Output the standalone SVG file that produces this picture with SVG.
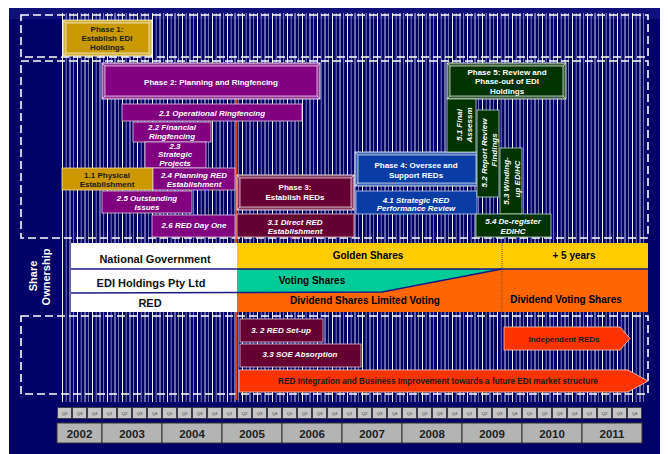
<svg xmlns="http://www.w3.org/2000/svg" width="668" height="454" viewBox="0 0 668 454">
<defs>
<pattern id="st" x="62" y="0" width="15" height="10" patternUnits="userSpaceOnUse">
<rect x="0" y="0" width="1" height="10" fill="#ffffff" fill-opacity="0.95"/>
<rect x="3.75" y="0" width="0.8" height="10" fill="#ffffff" fill-opacity="0.6"/>
<rect x="7.5" y="0" width="1" height="10" fill="#ffffff" fill-opacity="0.8"/>
<rect x="11.25" y="0" width="0.8" height="10" fill="#ffffff" fill-opacity="0.6"/>
</pattern>
<pattern id="qp" x="57" y="407" width="15" height="12" patternUnits="userSpaceOnUse">
<rect x="0.6" y="0.6" width="13.8" height="10.8" fill="#c6c6c6" stroke="#3a3a3a" stroke-width="0.8"/>
</pattern>
<style>
text{font-family:"Liberation Sans",Arial,sans-serif;font-weight:bold;text-anchor:middle}
.w{fill:#ffffff;font-size:8px}
.wi{fill:#ffffff;font-size:8px;font-style:italic}
.dk{fill:#1a1a1a;font-size:8px}
.bk{fill:#000000;font-size:10px}
.tb{fill:#111111;font-size:11px}
.q{fill:#333333;font-size:4.3px;font-weight:normal}
.yr{fill:#222222;font-size:11.5px}
.dash{fill:none;stroke:#ffffff;stroke-width:1.6;stroke-dasharray:8 4}
.sub{stroke:#e0c8e0;stroke-width:0.8}
.edge{fill:none;stroke:#ffffff;stroke-opacity:0.8;stroke-width:0.8}
.band{fill:#ffffff;fill-opacity:0.22;fill-rule:evenodd}
</style>
</defs>
<rect x="0" y="0" width="668" height="454" fill="#ffffff"/>
<rect x="9" y="8" width="651" height="446" fill="#000066"/>
<rect x="9" y="8" width="651" height="11" fill="#1a1a88" fill-opacity="0.6"/>
<rect x="62" y="13" width="584" height="389" fill="url(#st)"/>

<g id="sections">
<rect class="dash" x="21" y="15" width="627" height="42"/>
<rect class="dash" x="21" y="61" width="627" height="177"/>
<rect class="dash" x="21" y="316" width="627" height="78"/>
</g>

<g id="connectors">
<line x1="236.5" y1="99" x2="236.5" y2="400" stroke="#e04010" stroke-width="2"/>
</g>

<g id="phase1">
<rect x="63" y="20" width="89" height="36" fill="#c89a00" stroke="#ffffff" stroke-width="0.8"/>
<path class="band" d="M63 20h89v36h-89z M66 23v30h83v-30z"/>
<rect class="edge" x="66" y="23" width="83" height="30"/>
<path class="edge" d="M63 20L66 23M152 20L149 23M63 56L66 53M152 56L149 53"/>
<text class="dk" x="107" y="32">Phase 1:</text>
<text class="dk" x="107" y="41">Establish EDI</text>
<text class="dk" x="107" y="50">Holdings</text>
</g>

<g id="phase2">
<rect x="102" y="63" width="218" height="36" fill="#800080" stroke="#ffffff" stroke-width="0.8"/>
<path class="band" d="M102 63h218v36h-218z M105 66v30h212v-30z"/>
<rect class="edge" x="105" y="66" width="212" height="30"/>
<path class="edge" d="M102 63L105 66M320 63L317 66M102 99L105 96M320 99L317 96"/>
<text class="w" x="211" y="85">Phase 2: Planning and Ringfencing</text>
</g>

<g id="n21">
<rect class="sub" x="122" y="104" width="180" height="17" fill="#800080"/>
<text class="wi" x="212" y="116">2.1 Operational Ringfencing</text>
</g>
<g id="n22">
<rect class="sub" x="133" y="122" width="78" height="20" fill="#800080"/>
<text class="wi" x="172" y="130">2.2 Financial</text>
<text class="wi" x="172" y="139">Ringfencing</text>
</g>
<g id="n23">
<rect class="sub" x="145" y="142" width="61" height="26" fill="#800080"/>
<text class="wi" x="175" y="149">2.3</text>
<text class="wi" x="175" y="157">Strategic</text>
<text class="wi" x="175" y="166">Projects</text>
</g>
<g id="n11">
<rect x="62" y="168" width="91" height="22" fill="#cc9900" stroke="#f0e0a0" stroke-width="0.8"/>
<text class="dk" x="107" y="178">1.1 Physical</text>
<text class="dk" x="107" y="187">Establishment</text>
</g>
<g id="n24">
<rect class="sub" x="153" y="168" width="82" height="22" fill="#800080"/>
<text class="wi" x="194" y="178">2.4 Planning RED</text>
<text class="wi" x="194" y="187">Establishment</text>
</g>
<g id="n25">
<rect class="sub" x="102" y="191" width="90" height="22" fill="#800080"/>
<text class="wi" x="147" y="201">2.5 Outstanding</text>
<text class="wi" x="147" y="210">Issues</text>
</g>
<g id="n26">
<rect class="sub" x="152" y="215" width="83" height="22" fill="#800080"/>
<text class="wi" x="194" y="228">2.6 RED Day One</text>
</g>

<g id="phase3">
<rect x="237" y="175" width="117" height="35" fill="#660033" stroke="#ffffff" stroke-width="0.8"/>
<path class="band" d="M237 175h117v35h-117z M240 178v29h111v-29z"/>
<rect class="edge" x="240" y="178" width="111" height="29"/>
<path class="edge" d="M237 175L240 178M354 175L351 178M237 210L240 207M354 210L351 207"/>
<text class="w" x="295" y="190">Phase 3:</text>
<text class="w" x="295" y="200">Establish REDs</text>
</g>
<g id="n31">
<rect x="237" y="214" width="117" height="23" fill="#660033" stroke="#e0c0d0" stroke-width="0.8"/>
<text class="wi" x="295" y="225">3.1 Direct RED</text>
<text class="wi" x="295" y="234">Establishment</text>
</g>

<g id="phase4">
<rect x="355" y="152" width="124" height="34" fill="#0a3ca6" stroke="#ffffff" stroke-width="0.8"/>
<path class="band" d="M355 152h124v34h-124z M358 155v28h118v-28z"/>
<rect class="edge" x="358" y="155" width="118" height="28"/>
<path class="edge" d="M355 152L358 155M479 152L476 155M355 186L358 183M479 186L476 183"/>
<text class="w" x="416" y="168">Phase 4: Oversee and</text>
<text class="w" x="416" y="178">Support REDs</text>
</g>
<g id="n41">
<rect x="356" y="191" width="121" height="23" fill="#0a3ca6" stroke="#c0d0f0" stroke-width="0.8"/>
<text class="wi" x="416" y="203">4.1 Strategic RED</text>
<text class="wi" x="416" y="211">Performance Review</text>
</g>

<g id="phase5">
<rect x="447" y="63" width="119" height="36" fill="#003300" stroke="#ffffff" stroke-width="0.8"/>
<path class="band" d="M447 63h119v36h-119z M450 66v30h113v-30z"/>
<rect class="edge" x="450" y="66" width="113" height="30"/>
<path class="edge" d="M447 63L450 66M566 63L563 66M447 99L450 96M566 99L563 96"/>
<text class="w" x="507" y="75">Phase 5: Review and</text>
<text class="w" x="507" y="84">Phase-out of EDI</text>
<text class="w" x="507" y="94">Holdings</text>
</g>
<g id="n51">
<rect x="447" y="99" width="29" height="53" fill="#003300" stroke="#c0d8c0" stroke-width="0.8"/>
<text class="wi" transform="translate(462 125) rotate(-90)">5.1 Final</text>
<text class="wi" transform="translate(472 125) rotate(-90)">Assessm</text>
</g>
<g id="n52">
<rect x="477" y="110" width="22" height="87" fill="#003300" stroke="#c0d8c0" stroke-width="0.8"/>
<text class="wi" transform="translate(487 153) rotate(-90)">5.2 Report Review</text>
<text class="wi" transform="translate(497 150) rotate(-90)">Findings</text>
</g>
<g id="n53">
<rect x="500" y="148" width="22" height="66" fill="#003300" stroke="#c0d8c0" stroke-width="0.8"/>
<text class="wi" transform="translate(509 181) rotate(-90)">5.3 Winding-</text>
<text class="wi" transform="translate(520 179) rotate(-90)">up EDIHC</text>
</g>
<g id="n54">
<rect x="476" y="214" width="75" height="23" fill="#003300" stroke="#c0d8c0" stroke-width="0.8"/>
<text class="wi" x="513" y="224">5.4 De-register</text>
<text class="wi" x="513" y="234">EDIHC</text>
</g>

<g id="share">
<text fill="#ffffff" style="font-size:11px" transform="translate(37 276) rotate(-90)">Share</text>
<text fill="#ffffff" style="font-size:11px" transform="translate(50 277) rotate(-90)">Ownership</text>
<rect x="71" y="243" width="166" height="69" fill="#ffffff"/>
<rect x="237" y="243" width="411" height="26" fill="#ffcc00"/>
<rect x="237" y="269" width="411" height="43" fill="#ff6600"/>
<polygon points="237,269 502,269 382,292 237,292" fill="#00cc99"/>
<line x1="71" y1="269" x2="648" y2="269" stroke="#1a1a80" stroke-width="1.5"/>
<polyline points="71,293 237,292.5 382,292 502,269" fill="none" stroke="#1a1a80" stroke-width="1.5"/>
<line x1="502" y1="243" x2="502" y2="312" stroke="#444444" stroke-width="0.8" stroke-dasharray="1 1"/>
<text class="tb" x="155" y="263">National Government</text>
<text class="tb" x="151" y="287">EDI Holdings Pty Ltd</text>
<text class="tb" x="150" y="307">RED</text>
<text class="bk" x="368" y="259">Golden Shares</text>
<text class="bk" x="574" y="259">+ 5 years</text>
<text class="bk" x="312" y="284">Voting Shares</text>
<text class="bk" x="365" y="304">Dividend Shares Limited Voting</text>
<text class="bk" x="566" y="303">Dividend Voting Shares</text>
</g>

<g id="n32">
<rect x="240" y="319" width="83" height="23" fill="#660033" stroke="#e0c0d0" stroke-width="0.8"/>
<text class="wi" x="281" y="333">3. 2 RED Set-up</text>
</g>
<g id="n33">
<rect x="240" y="344" width="121" height="23" fill="#660033" stroke="#e0c0d0" stroke-width="0.8"/>
<text class="wi" x="300" y="357">3.3 SOE Absorption</text>
</g>
<g id="independent">
<polygon points="504,327 620,327 630,338.5 620,350 504,350" fill="#ff3300" stroke="#ffd0c0" stroke-width="0.8"/>
<text class="dk" x="564" y="342">Independent REDs</text>
</g>
<g id="integration">
<polygon points="239,370 628,370 648,381 628,392 239,392" fill="#ff3300" stroke="#ffd0c0" stroke-width="0.8"/>
<text class="dk" style="font-size:8.2px" x="438" y="384">RED Integration and Business Improvement towards a future EDI market structure</text>
</g>

<g id="timeline">
<rect x="57" y="407" width="585" height="12" fill="url(#qp)"/>
<text class="q" x="64.5" y="414.5">Q2</text><text class="q" x="79.5" y="414.5">Q3</text><text class="q" x="94.5" y="414.5">Q4</text>
<text class="q" x="109.5" y="414.5">Q1</text><text class="q" x="124.5" y="414.5">Q2</text><text class="q" x="139.5" y="414.5">Q3</text><text class="q" x="154.5" y="414.5">Q4</text>
<text class="q" x="169.5" y="414.5">Q1</text><text class="q" x="184.5" y="414.5">Q2</text><text class="q" x="199.5" y="414.5">Q3</text><text class="q" x="214.5" y="414.5">Q4</text>
<text class="q" x="229.5" y="414.5">Q1</text><text class="q" x="244.5" y="414.5">Q2</text><text class="q" x="259.5" y="414.5">Q3</text><text class="q" x="274.5" y="414.5">Q4</text>
<text class="q" x="289.5" y="414.5">Q1</text><text class="q" x="304.5" y="414.5">Q2</text><text class="q" x="319.5" y="414.5">Q3</text><text class="q" x="334.5" y="414.5">Q4</text>
<text class="q" x="349.5" y="414.5">Q1</text><text class="q" x="364.5" y="414.5">Q2</text><text class="q" x="379.5" y="414.5">Q3</text><text class="q" x="394.5" y="414.5">Q4</text>
<text class="q" x="409.5" y="414.5">Q1</text><text class="q" x="424.5" y="414.5">Q2</text><text class="q" x="439.5" y="414.5">Q3</text><text class="q" x="454.5" y="414.5">Q4</text>
<text class="q" x="469.5" y="414.5">Q1</text><text class="q" x="484.5" y="414.5">Q2</text><text class="q" x="499.5" y="414.5">Q3</text><text class="q" x="514.5" y="414.5">Q4</text>
<text class="q" x="529.5" y="414.5">Q1</text><text class="q" x="544.5" y="414.5">Q2</text><text class="q" x="559.5" y="414.5">Q3</text><text class="q" x="574.5" y="414.5">Q4</text>
<text class="q" x="589.5" y="414.5">Q1</text><text class="q" x="604.5" y="414.5">Q2</text><text class="q" x="619.5" y="414.5">Q3</text><text class="q" x="634.5" y="414.5">Q4</text>
<g fill="#b4b4b4" stroke="#333333" stroke-width="1">
<rect x="57" y="423" width="45" height="20"/>
<rect x="102" y="423" width="60" height="20"/>
<rect x="162" y="423" width="60" height="20"/>
<rect x="222" y="423" width="60" height="20"/>
<rect x="282" y="423" width="60" height="20"/>
<rect x="342" y="423" width="60" height="20"/>
<rect x="402" y="423" width="60" height="20"/>
<rect x="462" y="423" width="60" height="20"/>
<rect x="522" y="423" width="60" height="20"/>
<rect x="582" y="423" width="60" height="20"/>
</g>
<text class="yr" x="79.5" y="437.5">2002</text>
<text class="yr" x="132" y="437.5">2003</text>
<text class="yr" x="192" y="437.5">2004</text>
<text class="yr" x="252" y="437.5">2005</text>
<text class="yr" x="312" y="437.5">2006</text>
<text class="yr" x="372" y="437.5">2007</text>
<text class="yr" x="432" y="437.5">2008</text>
<text class="yr" x="492" y="437.5">2009</text>
<text class="yr" x="552" y="437.5">2010</text>
<text class="yr" x="612" y="437.5">2011</text>
</g>
</svg>
